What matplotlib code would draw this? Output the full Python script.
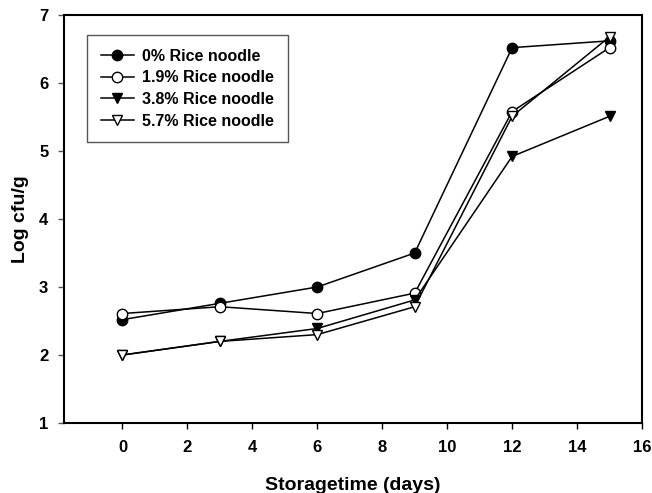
import matplotlib.pyplot as plt

days = [0, 3, 6, 9, 12, 15]
rice_0 = [2.52, 2.76, 3.0, 3.5, 6.52, 6.62]
rice_19 = [2.61, 2.71, 2.61, 2.91, 5.58, 6.52]
rice_38 = [2.0, 2.2, 2.39, 2.81, 4.92, 5.51]
rice_57 = [2.0, 2.2, 2.3, 2.71, 5.51, 6.68]
labels = ['0% Rice noodle', '1.9% Rice noodle', '3.8% Rice noodle', '5.7% Rice noodle']

plt.rcParams['font.family'] = ['Liberation Sans', 'DejaVu Sans']
plt.rcParams['font.weight'] = 'bold'

fig = plt.figure(figsize=(6.52, 4.93), dpi=100)
ax = fig.add_axes([64/652, 1-423/493, (642-64)/652, (423-15)/493])

ms = 7.5
ax.plot(days, rice_0, '-o', color='black', mfc='black', mec='black', ms=ms, lw=1.1, label=labels[0])
ax.plot(days, rice_19, '-o', color='black', mfc='white', mec='black', ms=ms, lw=1.1, label=labels[1])
ax.plot(days, rice_38, '-v', color='black', mfc='black', mec='black', ms=ms, lw=1.1, label=labels[2])
ax.plot(days, rice_57, '-v', color='black', mfc='white', mec='black', ms=ms, lw=1.1, label=labels[3])

ax.set_xlim(-1.8, 16)
ax.set_ylim(1, 7)
ax.set_xticks(range(0, 17, 2))
ax.set_yticks(range(1, 8))
ax.tick_params(axis='x', direction='out', length=4.3, width=1, labelsize=12, pad=8)
ax.tick_params(axis='y', direction='out', length=4.3, width=1, labelsize=12, pad=7, color='#555555')
for s in ax.spines.values():
    s.set_linewidth(1.5)

ax.set_xlabel('Storagetime (days)', fontsize=14, fontweight='bold', labelpad=15.5)
ax.set_ylabel('Log cfu/g', fontsize=14, fontweight='bold', labelpad=7)

leg = ax.legend(loc='upper left', bbox_to_anchor=((87-64)/578, (423-35)/408), borderaxespad=0,
                fontsize=11.5, fancybox=False, edgecolor='#555555', framealpha=1,
                handlelength=2.1, handletextpad=0.5, labelspacing=0.42, borderpad=0.85)
leg.get_frame().set_linewidth(1.0)

fig.savefig('out.png', dpi=100)
